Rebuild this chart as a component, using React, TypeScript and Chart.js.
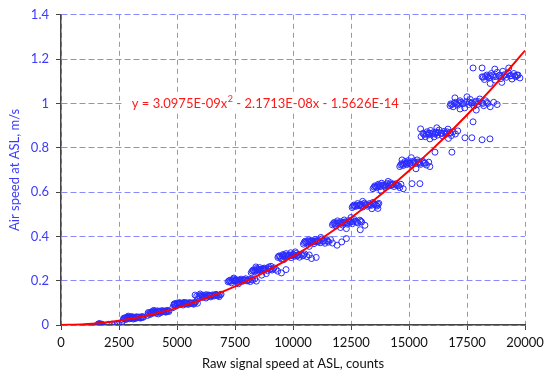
import React, { useEffect, useRef } from "react";
import { Chart, registerables } from "chart.js";

Chart.register(...registerables);

// Measured points: raw signal speed (counts) and air speed (m/s), one cluster per line
const rawCounts: number[] = [
  1580, 1620, 1650, 1680, 1700, 1720, 1750, 1640, 1700, 1770,
  2050, 2200, 2320, 2420, 2480,
  2620, 2680, 2720, 2760, 2800, 2840, 2880, 2920, 2960, 3000, 3050, 3100, 3150, 3200, 3250, 3300, 3350, 3420, 3480, 3550, 2900, 3120,
  3720, 3780, 3820, 3870, 3900, 3950, 4000, 4050, 4100, 4150, 4200, 4250, 4300, 4350, 4400, 4460, 4520, 4580, 4650, 4000, 4200,
  4820, 4860, 4900, 4950, 5000, 5050, 5100, 5150, 5200, 5260, 5300, 5360, 5420, 5480, 5540, 5600, 5660, 5720, 5800, 5880,
  5780, 5900, 5980, 6050, 6120, 6200, 6260, 6320, 6400, 6460, 6540, 6600, 6680, 6750, 6820, 6900, 6000, 6250,
  7200, 7280, 7350, 7420, 7500, 7560, 7620, 7700, 7760, 7820, 7900, 7960, 8020, 8100, 8160, 8250, 8350, 7650, 7450, 8420,
  8200, 8280, 8350, 8420, 8500, 8560, 8620, 8700, 8760, 8830, 8900, 8960, 9030, 9100, 9180, 9260, 9340, 8650, 8850, 9050, 8400, 9500, 9700,
  9350, 9420, 9500, 9570, 9640, 9700, 9780, 9850, 9920, 10000, 10070, 10140, 10200, 10280, 10350, 10420, 10500, 10600, 9600, 10100, 10700, 9900, 10800, 11000,
  10450, 10520, 10600, 10680, 10750, 10820, 10900, 10960, 11030, 11100, 11170, 11240, 11300, 11380, 11450, 11530, 11620, 10700, 11200, 11700, 11900, 12100, 12300,
  11700, 11780, 11850, 11920, 12000, 12070, 12140, 12210, 12280, 12350, 12420, 12490, 12560, 12640, 12720, 12800, 12880, 12960, 12050, 12500, 12300, 13100, 12900,
  12550, 12620, 12700, 12780, 12850, 12930, 13000, 13080, 13150, 13220, 13300, 13380, 13450, 13530, 13620, 13700, 13000, 13400, 13660,
  13450, 13530, 13600, 13680, 13750, 13820, 13900, 13970, 14050, 14120, 14200, 14270, 14350, 14420, 14500, 14600, 13800, 14100, 14650, 15130, 15470, 14750,
  14600, 14680, 14750, 14830, 14900, 14970, 15050, 15120, 15200, 15270, 15350, 15420, 15500, 15580, 15660, 15750, 15850, 14700, 15300, 15100, 15900,
  15600, 15700, 15780, 15850, 15930, 16000, 16080, 16150, 16230, 16300, 16380, 16450, 16520, 16600, 16680, 16750, 16830, 16900, 17000, 17100, 16200, 16700, 15900, 15500, 15520, 17410, 17710, 18150, 18490, 16120, 16850, 17760,
  16800, 16900, 17000, 17100, 17200, 17300, 17400, 17480, 17560, 17640, 17720, 17800, 17880, 17960, 18050, 18130, 18220, 18300, 18400, 18500, 18650, 18800, 17500, 17900, 17200, 16980, 16770,
  18150, 18250, 18350, 18450, 18550, 18640, 18720, 18800, 18880, 18960, 19040, 19120, 19200, 19280, 19360, 19440, 19520, 19600, 19700, 19780, 18700, 19000, 19300, 18500, 17760, 18150,
  2700, 2780, 2830, 2870, 2950, 3020, 3080, 3180, 3280, 3380, 3450, 3520,
  3760, 3850, 3930, 3980, 4080, 4180, 4230, 4320, 4420, 4490, 4560, 4620,
  4880, 4930, 5020, 5080, 5130, 5230, 5330, 5390, 5450, 5570, 5690, 5760,
  5850, 5950, 6080, 6150, 6290, 6360, 6430, 6500, 6620, 6710, 6790, 6860,
  7240, 7320, 7390, 7470, 7530, 7590, 7680, 7790, 7860, 7930, 8060, 8200,
  8240, 8310, 8380, 8460, 8530, 8590, 8680, 8730, 8800, 8930, 9000, 9150,
  9380, 9460, 9540, 9610, 9680, 9740, 9820, 9960, 10040, 10170, 10240, 10460,
  10480, 10560, 10640, 10720, 10790, 10860, 10930, 11000, 11070, 11140, 11330, 11500,
  11740, 11810, 11880, 11960, 12100, 12180, 12250, 12320, 12450, 12600, 12760, 12920,
  12580, 12660, 12740, 12820, 12900, 12970, 13120, 13260, 13340, 13490, 13580, 13660,
  13490, 13560, 13640, 13720, 13860, 13940, 14010, 14160, 14240, 14310, 14460, 14550,
  14640, 14720, 14800, 14870, 14940, 15010, 15160, 15240, 15390, 15460, 15620, 15700,
  15650, 15740, 15820, 15890, 16040, 16110, 16190, 16260, 16420, 16560, 16640, 16790,
  16850, 16950, 17050, 17150, 17250, 17350, 17600, 17680, 17840, 18000, 18180, 18350,
  18200, 18300, 18400, 18500, 18600, 18760, 18920, 19080, 19240, 19400, 19560, 19650,
];

const airSpeed: number[] = [
  0.002, 0.004, 0.001, 0.005, 0.003, 0.000, 0.004, 0.006, 0.001, 0.002,
  0.003, 0.004, 0.002, 0.005, 0.003,
  0.012, 0.022, 0.028, 0.031, 0.025, 0.034, 0.030, 0.036, 0.028, 0.033, 0.038, 0.031, 0.035, 0.029, 0.037, 0.033, 0.036, 0.031, 0.038, 0.035, 0.040, 0.027,
  0.043, 0.052, 0.047, 0.058, 0.051, 0.062, 0.055, 0.060, 0.053, 0.064, 0.058, 0.062, 0.056, 0.065, 0.060, 0.063, 0.058, 0.066, 0.061, 0.066, 0.050,
  0.078, 0.090, 0.096, 0.085, 0.099, 0.092, 0.101, 0.094, 0.098, 0.090, 0.102, 0.095, 0.099, 0.093, 0.101, 0.097, 0.100, 0.094, 0.103, 0.098,
  0.135, 0.118, 0.128, 0.134, 0.125, 0.131, 0.137, 0.129, 0.134, 0.127, 0.136, 0.131, 0.138, 0.133, 0.128, 0.139, 0.140, 0.122,
  0.195, 0.202, 0.190, 0.207, 0.198, 0.204, 0.193, 0.201, 0.207, 0.197, 0.203, 0.209, 0.199, 0.205, 0.196, 0.203, 0.208, 0.186, 0.212, 0.198,
  0.236, 0.248, 0.241, 0.255, 0.244, 0.259, 0.250, 0.246, 0.257, 0.252, 0.245, 0.262, 0.253, 0.248, 0.258, 0.251, 0.243, 0.225, 0.232, 0.265, 0.262, 0.235, 0.250,
  0.305, 0.312, 0.298, 0.318, 0.308, 0.322, 0.311, 0.316, 0.304, 0.319, 0.310, 0.323, 0.314, 0.306, 0.318, 0.312, 0.321, 0.309, 0.295, 0.330, 0.316, 0.326, 0.300, 0.305,
  0.365, 0.378, 0.370, 0.384, 0.372, 0.380, 0.367, 0.386, 0.375, 0.382, 0.371, 0.388, 0.377, 0.369, 0.381, 0.374, 0.385, 0.355, 0.395, 0.370, 0.360, 0.375, 0.390,
  0.452, 0.463, 0.447, 0.470, 0.458, 0.466, 0.451, 0.474, 0.462, 0.455, 0.471, 0.464, 0.457, 0.476, 0.468, 0.460, 0.473, 0.465, 0.440, 0.485, 0.435, 0.450, 0.430,
  0.530, 0.541, 0.535, 0.548, 0.538, 0.545, 0.532, 0.550, 0.542, 0.536, 0.548, 0.540, 0.553, 0.544, 0.537, 0.549, 0.558, 0.525, 0.526,
  0.615, 0.628, 0.620, 0.635, 0.624, 0.640, 0.630, 0.622, 0.638, 0.627, 0.642, 0.633, 0.625, 0.637, 0.630, 0.620, 0.605, 0.648, 0.635, 0.638, 0.638, 0.615,
  0.715, 0.728, 0.720, 0.738, 0.724, 0.742, 0.731, 0.722, 0.740, 0.729, 0.745, 0.733, 0.725, 0.740, 0.730, 0.722, 0.735, 0.745, 0.705, 0.755, 0.715,
  0.865, 0.850, 0.872, 0.858, 0.878, 0.862, 0.849, 0.870, 0.857, 0.880, 0.866, 0.853, 0.874, 0.861, 0.884, 0.868, 0.855, 0.872, 0.862, 0.876, 0.890, 0.842, 0.840, 0.885, 0.850, 0.845, 0.845, 0.836, 0.840, 0.780, 0.780, 0.917,
  0.998, 0.985, 1.005, 0.992, 1.012, 0.998, 0.980, 1.008, 0.995, 1.018, 1.002, 0.988, 1.010, 0.996, 1.020, 1.004, 0.990, 1.012, 1.000, 0.985, 1.005, 0.995, 1.030, 0.970, 0.975, 1.025, 0.990,
  1.120, 1.108, 1.128, 1.115, 1.135, 1.120, 1.105, 1.140, 1.125, 1.112, 1.145, 1.130, 1.118, 1.138, 1.124, 1.110, 1.135, 1.120, 1.128, 1.115, 1.155, 1.095, 1.160, 1.090, 1.160, 1.160,
  0.030, 0.033, 0.029, 0.035, 0.032, 0.036, 0.034, 0.032, 0.035, 0.034, 0.033, 0.036,
  0.056, 0.055, 0.057, 0.059, 0.058, 0.060, 0.061, 0.059, 0.062, 0.060, 0.062, 0.064,
  0.094, 0.091, 0.096, 0.097, 0.099, 0.096, 0.098, 0.100, 0.096, 0.099, 0.097, 0.100,
  0.130, 0.132, 0.129, 0.134, 0.132, 0.135, 0.131, 0.133, 0.135, 0.136, 0.134, 0.136,
  0.199, 0.197, 0.201, 0.200, 0.199, 0.202, 0.203, 0.200, 0.202, 0.204, 0.201, 0.205,
  0.243, 0.245, 0.248, 0.250, 0.251, 0.249, 0.252, 0.254, 0.250, 0.255, 0.250, 0.253,
  0.310, 0.305, 0.312, 0.314, 0.313, 0.308, 0.315, 0.313, 0.316, 0.312, 0.318, 0.316,
  0.372, 0.374, 0.377, 0.376, 0.379, 0.374, 0.378, 0.380, 0.377, 0.378, 0.381, 0.379,
  0.458, 0.455, 0.460, 0.462, 0.459, 0.463, 0.466, 0.461, 0.465, 0.466, 0.464, 0.468,
  0.536, 0.538, 0.541, 0.540, 0.542, 0.539, 0.544, 0.541, 0.543, 0.546, 0.542, 0.545,
  0.622, 0.624, 0.628, 0.630, 0.632, 0.628, 0.632, 0.634, 0.630, 0.636, 0.632, 0.628,
  0.722, 0.725, 0.728, 0.730, 0.733, 0.728, 0.732, 0.735, 0.736, 0.730, 0.734, 0.731,
  0.860, 0.862, 0.864, 0.866, 0.868, 0.862, 0.866, 0.870, 0.864, 0.868, 0.872, 0.866,
  0.995, 1.000, 0.998, 1.003, 1.005, 1.000, 1.006, 1.002, 1.004, 1.008, 1.000, 1.004,
  1.118, 1.122, 1.120, 1.125, 1.127, 1.122, 1.128, 1.125, 1.130, 1.126, 1.124, 1.128,
];

// Polynomial trendline values (from the displayed equation)
const fitCounts: number[] = [0, 1000, 2000, 3000, 4000, 5000, 6000, 7000, 8000, 9000, 10000, 11000, 12000, 13000, 14000, 15000, 16000, 17000, 18000, 19000, 20000];
const fitSpeed: number[] = [0, 0.0031, 0.0123, 0.0278, 0.0495, 0.0773, 0.1114, 0.1516, 0.1981, 0.2507, 0.3095, 0.3746, 0.4458, 0.5232, 0.6068, 0.6966, 0.7926, 0.8948, 1.0032, 1.1178, 1.2386];

const equationParts: string[] = ["y = 3.0975E-09x", "2", " - 2.1713E-08x - 1.5626E-14"];
const equationAnchor: number[] = [3050, 1.0];

const xTitle = "Raw signal speed at ASL, counts";
const yTitle = "Air speed at ASL, m/s";

const FONT = "Lato, 'Open Sans', sans-serif";
const BLUE_TEXT = "#3b3bff";

const equationPlugin = {
  id: "equationLabel",
  afterDraw(chart: any) {
    const { ctx, scales } = chart;
    const x = scales.x.getPixelForValue(equationAnchor[0]);
    const y = scales.y.getPixelForValue(equationAnchor[1]);
    ctx.save();
    ctx.textBaseline = "middle";
    const big = `13px ${FONT}`;
    const small = `9px ${FONT}`;
    ctx.font = big;
    const w0 = ctx.measureText(equationParts[0]).width;
    const w2 = ctx.measureText(equationParts[2]).width;
    ctx.font = small;
    const w1 = ctx.measureText(equationParts[1]).width;
    const total = w0 + w1 + w2;
    ctx.fillStyle = "#ffffff";
    ctx.fillRect(x - 10, y - 8, total + 13, 16);
    ctx.fillStyle = "#ff1a1a";
    ctx.font = big;
    ctx.fillText(equationParts[0], x, y);
    ctx.font = small;
    ctx.fillText(equationParts[1], x + w0 + 0.5, y - 4);
    ctx.font = big;
    ctx.fillText(equationParts[2], x + w0 + w1 + 0.5, y);
    ctx.restore();
  },
};

export default function App() {
  const ref = useRef<HTMLCanvasElement | null>(null);

  useEffect(() => {
    if (!ref.current) return;
    const n = Math.min(rawCounts.length, airSpeed.length);
    const points = [];
    for (let i = 0; i < n; i++) points.push({ x: rawCounts[i], y: airSpeed[i] });
    const fit = fitCounts.map((c, i) => ({ x: c, y: fitSpeed[i] }));

    const chart = new Chart(ref.current, {
      type: "scatter",
      data: {
        datasets: [
          {
            label: "fit",
            data: fit,
            showLine: true,
            borderColor: "#ff0000",
            borderWidth: 2,
            pointRadius: 0,
            cubicInterpolationMode: "monotone",
            order: 0,
          } as any,
          {
            label: "measured",
            data: points,
            borderColor: "#2a2aff",
            backgroundColor: "rgba(0,0,0,0)",
            borderWidth: 1,
            pointRadius: 3,
            order: 1,
          },
        ],
      },
      options: {
        animation: false,
        responsive: false,
        layout: { padding: { top: 13, right: 25, left: 0, bottom: 0 } },
        plugins: { legend: { display: false }, tooltip: { enabled: false } },
        scales: {
          x: {
            type: "linear",
            min: 0,
            max: 20000,
            ticks: {
              stepSize: 2500,
              autoSkip: false,
              maxRotation: 0,
              color: "#111111",
              padding: 5,
              font: { family: FONT, size: 13 },
              callback: (v: any) => String(v),
            },
            grid: { color: "#9a9a9a", lineWidth: 1, tickColor: "#444444", tickLength: 5, tickWidth: 1 },
            border: { display: true, color: "#444444", width: 1.5, dash: [5, 4] },
            title: {
              display: true,
              text: xTitle,
              color: "#111111",
              font: { family: FONT, size: 13 },
              padding: { top: 0, bottom: 7 },
            },
            afterFit: (s: any) => {
              s.height = 54;
            },
          },
          y: {
            type: "linear",
            min: 0,
            max: 1.4,
            ticks: {
              stepSize: 0.2,
              color: BLUE_TEXT,
              padding: 7,
              font: { family: FONT, size: 13 },
              callback: (v: any) => String(Math.round(Number(v) * 10) / 10),
            },
            grid: { color: "#8a8aff", lineWidth: 1, tickColor: "#444444", tickLength: 5, tickWidth: 1 },
            border: { display: true, color: "#444444", width: 1.5, dash: [6, 3] },
            title: {
              display: true,
              text: yTitle,
              color: BLUE_TEXT,
              font: { family: FONT, size: 13 },
              padding: { top: 7, bottom: 0 },
            },
            afterFit: (s: any) => {
              s.width = 61;
            },
          },
        },
      },
      plugins: [equationPlugin],
    });
    return () => chart.destroy();
  }, []);

  return (
    <div style={{ position: "absolute", left: 0, top: 0, width: 550, height: 379, background: "#fff" }}>
      <canvas ref={ref} width={550} height={379} style={{ display: "block" }} />
    </div>
  );
}
